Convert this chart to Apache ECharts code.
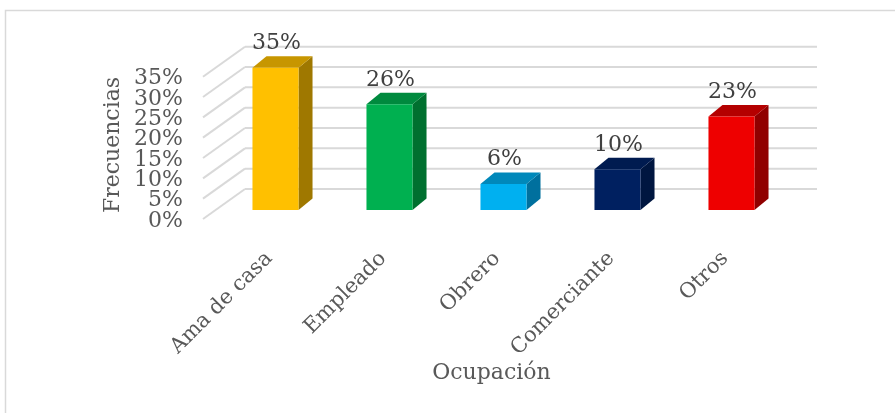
<!DOCTYPE html>
<html>
<head>
<meta charset="utf-8">
<script src="https://cdn.jsdelivr.net/npm/echarts@6/dist/echarts.min.js"></script>
<style>
html,body{margin:0;padding:0;background:#fff;}
#chart{width:895px;height:413px;}
</style>
</head>
<body>
<div id="chart"></div>
<script>
// ---- data ----
const categories = ['Ama de casa', 'Empleado', 'Obrero', 'Comerciante', 'Otros'];
const values = [35, 26, 6.4, 10, 23];
const valueLabels = ['35%', '26%', '6%', '10%', '23%'];
const yTicks = [0, 5, 10, 15, 20, 25, 30, 35];
const yTickLabels = ['0%', '5%', '10%', '15%', '20%', '25%', '30%', '35%'];
const xTitle = 'Ocupación';
const yTitle = 'Frecuencias';
const frontColors = ['#FFC000', '#00B050', '#00B0F0', '#002060', '#EE0000'];
const topColors   = ['#C79600', '#008A3E', '#0088BA', '#001B50', '#B40000'];
const sideColors  = ['#9F7800', '#00702F', '#00709E', '#001640', '#900000'];

const FONT = '"DejaVu Serif", serif';
const DX = 14, DY = -11.5;

const chart = echarts.init(document.getElementById('chart'), null, {renderer: 'canvas'});

const option = {
  backgroundColor: '#ffffff',
  animation: false,
  graphic: [{
    type: 'rect', z: -10,
    shape: {x: 5.5, y: 10.5, width: 960, height: 460},
    style: {fill: 'none', stroke: '#D9D9D9', lineWidth: 1.5}
  }],
  grid: [
    {left: 218.5, right: 106.5, top: 67.7, bottom: 203},
    {left: 218.5, right: 106.5, top: 80, bottom: 193}
  ],
  xAxis: [
    {gridIndex: 0, type: 'category', data: categories, show: false},
    {gridIndex: 1, type: 'category', data: categories,
     axisLine: {show: false}, axisTick: {show: false}, splitLine: {show: false},
     axisLabel: {rotate: 45, margin: 29, interval: 0, color: '#595959', fontFamily: FONT, fontSize: 21,
                 padding: [0, 9, 0, 0], hideOverlap: false},
     name: xTitle, nameLocation: 'middle', nameGap: 137,
     nameTextStyle: {color: '#595959', fontFamily: FONT, fontSize: 22, padding: [0, 24, 0, 0]}}
  ],
  yAxis: [
    {gridIndex: 0, type: 'value', min: 0, max: 35, interval: 5, show: false},
    {gridIndex: 1, type: 'value', min: 0, max: 35, interval: 5,
     axisLine: {show: false}, axisTick: {show: false}, splitLine: {show: false},
     axisLabel: {show: false},
     name: yTitle, nameLocation: 'middle', nameGap: 94,
     nameTextStyle: {color: '#595959', fontFamily: FONT, fontSize: 22, padding: [0, 0, 0, 10]}}
  ],
  series: [
    {
      type: 'custom', xAxisIndex: 0, yAxisIndex: 0, clip: false, z: 1,
      data: yTicks.map(function (v, k) { return [0, v, k]; }),
      renderItem: function (params, api) {
        const cs = params.coordSys;
        const y = api.coord([0, api.value(1)])[1];
        const k = api.value(2);
        const bx0 = cs.x + 26.5, bx1 = cs.x + cs.width + 28.5, by = y - 21;
        const fx = cs.x - 15.5, fy = y + 9;
        const st = {stroke: '#D9D9D9', lineWidth: 2, fill: 'none'};
        return {type: 'group', children: [
          {type: 'line', shape: {x1: bx0, y1: by, x2: bx1, y2: by}, style: st},
          {type: 'line', shape: {x1: bx0, y1: by, x2: fx, y2: fy}, style: st},
          {type: 'text', x: cs.x - 35.5, y: y + 11,
           style: {text: yTickLabels[k], align: 'right', verticalAlign: 'middle',
                   font: '22px ' + FONT, fill: '#595959'}}
        ]};
      }
    },
    {
      type: 'custom', xAxisIndex: 0, yAxisIndex: 0, clip: false, z: 2,
      data: values.map(function (v, i) { return [i, v]; }),
      renderItem: function (params, api) {
        const i = api.value(0), v = api.value(1);
        const base = api.coord([i, 0]);
        const top = api.coord([i, v]);
        const w = api.size([1, 0])[0] * 0.404;
        const x0 = base[0] - w / 2, x1 = base[0] + w / 2;
        const ty = top[1], by = base[1];
        return {type: 'group', children: [
          {type: 'polygon', shape: {points: [[x1, ty], [x1 + DX, ty + DY], [x1 + DX, by + DY], [x1, by]]},
           style: {fill: sideColors[i]}},
          {type: 'polygon', shape: {points: [[x0, ty], [x0 + DX, ty + DY], [x1 + DX, ty + DY], [x1, ty]]},
           style: {fill: topColors[i]}},
          {type: 'rect', shape: {x: x0, y: ty, width: w, height: by - ty},
           style: {fill: frontColors[i]}},
          {type: 'text', x: base[0] + 1, y: ty + DY - 13,
           style: {text: valueLabels[i], align: 'center', verticalAlign: 'middle',
                   font: '22px ' + FONT, fill: '#404040'}}
        ]};
      }
    }
  ]
};
chart.setOption(option);
</script>
</body>
</html>
